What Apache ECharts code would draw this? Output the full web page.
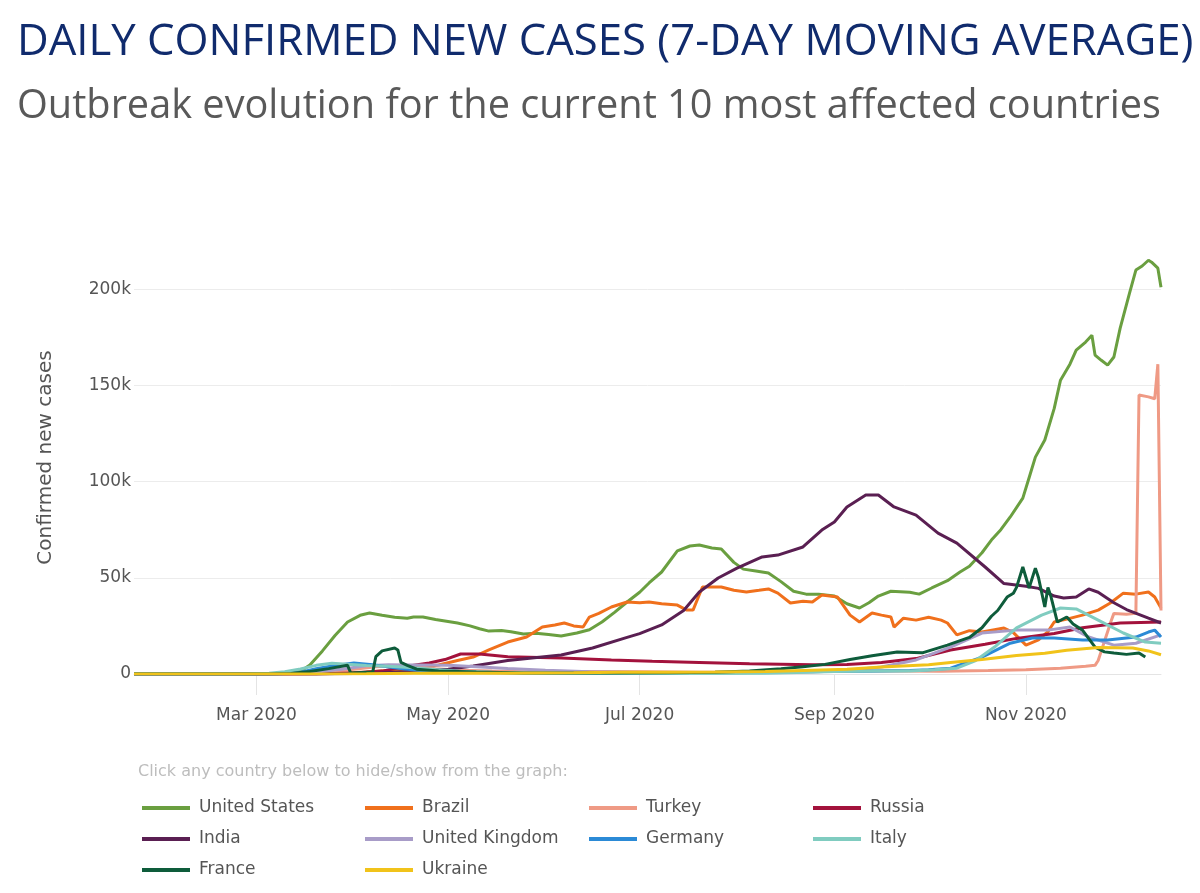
<!doctype html>
<html lang="en">
<head>
<meta charset="UTF-8" />
<title>Daily confirmed new cases</title>
<script src="https://cdn.jsdelivr.net/npm/echarts@6/dist/echarts.min.js"></script>
<style>
  html, body { margin: 0; padding: 0; background: #fff; }
  #chart { width: 1200px; height: 893px; }
</style>
</head>
<body>
<div id="chart"></div>
<script>
// countries in legend / drawing order
const countries = ['United States', 'Brazil', 'Turkey', 'Russia', 'India',
  'United Kingdom', 'Germany', 'Italy', 'France', 'Ukraine'];

// x axis labels sit on the first of these months
const tickDates = ['2020-03-01', '2020-05-01', '2020-07-01', '2020-09-01', '2020-11-01'];
const yTicks = [0, 50000, 100000, 150000, 200000];

// 7-day averages: [date, cases]
const usCases = [['2020-01-22',0],['2020-02-29',0],['2020-03-07',100],['2020-03-12',500],['2020-03-16',2500],['2020-03-18',4700],['2020-03-22',12000],['2020-03-26',20000],['2020-03-30',27000],['2020-04-03',30500],['2020-04-06',31700],['2020-04-10',30500],['2020-04-14',29500],['2020-04-18',29000],['2020-04-20',29600],['2020-04-23',29600],['2020-04-27',28300],['2020-05-01',27300],['2020-05-04',26500],['2020-05-08',25000],['2020-05-11',23500],['2020-05-14',22300],['2020-05-18',22600],['2020-05-21',22000],['2020-05-25',20800],['2020-05-29',21200],['2020-06-02',20500],['2020-06-06',19700],['2020-06-11',21300],['2020-06-15',23000],['2020-06-19',27000],['2020-06-23',32000],['2020-06-27',37400],['2020-07-01',42500],['2020-07-04',47300],['2020-07-08',53000],['2020-07-13',64000],['2020-07-17',66500],['2020-07-20',67000],['2020-07-24',65500],['2020-07-27',65000],['2020-07-31',58000],['2020-08-03',54500],['2020-08-07',53500],['2020-08-11',52500],['2020-08-15',48000],['2020-08-19',43000],['2020-08-23',41500],['2020-08-27',41500],['2020-09-01',40500],['2020-09-05',36500],['2020-09-09',34300],['2020-09-12',37000],['2020-09-15',40500],['2020-09-19',43000],['2020-09-25',42500],['2020-09-28',41500],['2020-10-02',44700],['2020-10-07',48500],['2020-10-11',53000],['2020-10-14',56000],['2020-10-18',63000],['2020-10-21',69600],['2020-10-24',75000],['2020-10-27',81600],['2020-10-31',91400],['2020-11-02',102000],['2020-11-04',112700],['2020-11-07',121600],['2020-11-10',138000],['2020-11-12',152700],['2020-11-15',161000],['2020-11-17',168300],['2020-11-20',172500],['2020-11-22',176000],['2020-11-23',165700],['2020-11-25',163000],['2020-11-27',160500],['2020-11-29',164700],['2020-12-01',179700],['2020-12-04',198000],['2020-12-06',209900],['2020-12-08',212000],['2020-12-10',215000],['2020-12-11',214000],['2020-12-13',210900],['2020-12-14',201000]];
const brazilCases = [['2020-01-22',0],['2020-03-10',0],['2020-03-25',300],['2020-04-05',1000],['2020-04-15',2200],['2020-04-28',4700],['2020-05-04',7000],['2020-05-09',8800],['2020-05-14',12500],['2020-05-20',16600],['2020-05-26',19200],['2020-05-31',24400],['2020-06-04',25500],['2020-06-07',26500],['2020-06-10',25000],['2020-06-13',24400],['2020-06-15',29600],['2020-06-18',31500],['2020-06-22',34800],['2020-06-27',37400],['2020-07-01',37000],['2020-07-04',37400],['2020-07-08',36500],['2020-07-13',35800],['2020-07-16',33200],['2020-07-18',33200],['2020-07-21',45200],['2020-07-27',45200],['2020-07-31',43500],['2020-08-04',42600],['2020-08-08',43500],['2020-08-11',44200],['2020-08-14',42000],['2020-08-18',36900],['2020-08-22',37800],['2020-08-25',37400],['2020-08-28',41000],['2020-09-02',40000],['2020-09-06',30600],['2020-09-09',27000],['2020-09-13',31700],['2020-09-16',30600],['2020-09-19',29600],['2020-09-20',24400],['2020-09-23',29000],['2020-09-27',28000],['2020-10-01',29500],['2020-10-05',28000],['2020-10-07',26500],['2020-10-10',20300],['2020-10-14',22500],['2020-10-18',21800],['2020-10-22',23000],['2020-10-25',23900],['2020-10-28',21500],['2020-11-01',15000],['2020-11-05',17700],['2020-11-08',22000],['2020-11-10',27000],['2020-11-14',28500],['2020-11-19',30600],['2020-11-24',33200],['2020-11-28',37000],['2020-12-02',42000],['2020-12-06',41500],['2020-12-10',42600],['2020-12-12',40000],['2020-12-14',34300]];
const turkeyCases = [['2020-01-22',0],['2020-03-11',0],['2020-03-20',150],['2020-03-25',1000],['2020-04-01',2500],['2020-04-08',3800],['2020-04-14',4400],['2020-04-20',4000],['2020-04-27',2700],['2020-05-05',2000],['2020-05-15',1500],['2020-06-01',900],['2020-06-12',1300],['2020-07-01',1200],['2020-07-20',950],['2020-08-10',1100],['2020-09-01',1500],['2020-09-20',1600],['2020-10-05',1400],['2020-10-20',1800],['2020-11-01',2200],['2020-11-12',3000],['2020-11-20',4000],['2020-11-23',4500],['2020-11-24',7000],['2020-11-25',12000],['2020-11-26',17000],['2020-11-27',22000],['2020-11-28',27000],['2020-11-29',31500],['2020-12-03',31000],['2020-12-06',31500],['2020-12-07',145000],['2020-12-10',144000],['2020-12-12',143000],['2020-12-13',161000],['2020-12-14',33000]];
const russiaCases = [['2020-01-22',0],['2020-03-20',0],['2020-04-01',500],['2020-04-10',1500],['2020-04-18',4000],['2020-04-25',5700],['2020-04-30',7500],['2020-05-05',10400],['2020-05-11',10400],['2020-05-20',9000],['2020-06-06',8300],['2020-06-22',7300],['2020-07-05',6600],['2020-07-20',6000],['2020-08-05',5300],['2020-08-25',4800],['2020-09-05',5000],['2020-09-16',6000],['2020-09-27',8000],['2020-10-08',12500],['2020-10-19',15500],['2020-10-29',18500],['2020-11-10',21000],['2020-11-19',24000],['2020-12-01',26500],['2020-12-14',27000]];
const indiaCases = [['2020-01-22',0],['2020-03-20',0],['2020-04-01',200],['2020-04-10',700],['2020-04-20',1400],['2020-05-01',2500],['2020-05-09',4200],['2020-05-20',7000],['2020-06-06',9900],['2020-06-16',13500],['2020-06-27',19000],['2020-07-01',21000],['2020-07-08',25500],['2020-07-15',33000],['2020-07-20',42600],['2020-07-26',49900],['2020-08-01',55000],['2020-08-09',60800],['2020-08-14',61800],['2020-08-22',66000],['2020-08-28',74800],['2020-09-01',79000],['2020-09-05',86800],['2020-09-11',93000],['2020-09-15',93000],['2020-09-20',86800],['2020-09-27',82600],['2020-10-04',73200],['2020-10-10',68000],['2020-10-19',55600],['2020-10-25',47000],['2020-11-01',45600],['2020-11-05',44500],['2020-11-10',40500],['2020-11-13',39500],['2020-11-17',40000],['2020-11-21',44200],['2020-11-24',42500],['2020-11-29',37000],['2020-12-03',33500],['2020-12-10',29000],['2020-12-14',26500]];
const ukCases = [['2020-01-22',0],['2020-03-08',50],['2020-03-18',600],['2020-03-28',2500],['2020-04-05',4300],['2020-04-12',4800],['2020-04-20',4700],['2020-05-01',4500],['2020-05-10',3800],['2020-05-20',2800],['2020-06-01',1900],['2020-06-15',1200],['2020-07-01',800],['2020-07-20',600],['2020-08-10',900],['2020-08-25',1100],['2020-09-05',1800],['2020-09-16',3600],['2020-09-27',7300],['2020-10-08',14000],['2020-10-18',21300],['2020-10-29',22800],['2020-11-08',22800],['2020-11-15',24400],['2020-11-21',19200],['2020-11-29',15000],['2020-12-06',16000],['2020-12-14',20300]];
const germanyCases = [['2020-01-22',0],['2020-03-01',20],['2020-03-08',100],['2020-03-14',600],['2020-03-20',2700],['2020-03-25',4200],['2020-04-01',5700],['2020-04-07',4800],['2020-04-14',3300],['2020-04-21',2000],['2020-04-28',1300],['2020-05-10',800],['2020-05-25',500],['2020-06-10',350],['2020-06-22',550],['2020-07-05',400],['2020-07-20',500],['2020-08-05',800],['2020-08-15',1200],['2020-08-25',1300],['2020-09-10',1400],['2020-09-25',1800],['2020-10-01',2200],['2020-10-08',3000],['2020-10-18',8800],['2020-10-27',16000],['2020-11-03',18700],['2020-11-10',18700],['2020-11-19',17700],['2020-11-27',17700],['2020-12-06',19200],['2020-12-10',21800],['2020-12-12',22800],['2020-12-14',19200]];
const italyCases = [['2020-01-22',0],['2020-02-20',0],['2020-02-28',150],['2020-03-05',400],['2020-03-10',1200],['2020-03-15',2600],['2020-03-20',4500],['2020-03-25',5600],['2020-03-30',5100],['2020-04-05',4400],['2020-04-12',4000],['2020-04-20',3200],['2020-04-27',2300],['2020-05-05',1400],['2020-05-15',900],['2020-05-25',600],['2020-06-05',350],['2020-06-20',250],['2020-07-10',200],['2020-07-25',280],['2020-08-10',400],['2020-08-20',800],['2020-09-01',1300],['2020-09-15',1500],['2020-09-25',1600],['2020-10-03',2200],['2020-10-10',3000],['2020-10-16',7000],['2020-10-22',14000],['2020-10-29',24000],['2020-11-06',30600],['2020-11-12',34300],['2020-11-17',33800],['2020-11-24',28000],['2020-12-02',21300],['2020-12-09',16600],['2020-12-14',16000]];
const franceCases = [['2020-01-22',0],['2020-02-25',0],['2020-03-05',50],['2020-03-12',300],['2020-03-18',1300],['2020-03-24',2800],['2020-03-30',4500],['2020-03-31',500],['2020-04-07',1000],['2020-04-08',9000],['2020-04-10',12000],['2020-04-14',13500],['2020-04-15',12500],['2020-04-16',6000],['2020-04-18',4500],['2020-04-21',2500],['2020-04-28',1500],['2020-05-10',1000],['2020-05-25',500],['2020-06-20',500],['2020-07-10',600],['2020-07-25',900],['2020-08-05',1600],['2020-08-15',2700],['2020-08-22',3800],['2020-08-29',5000],['2020-09-06',7500],['2020-09-13',9500],['2020-09-21',11400],['2020-09-29',11000],['2020-10-07',15000],['2020-10-14',19000],['2020-10-18',24000],['2020-10-21',30000],['2020-10-23',33000],['2020-10-26',40000],['2020-10-28',42000],['2020-10-29',45000],['2020-10-31',55600],['2020-11-02',44700],['2020-11-04',55000],['2020-11-05',50000],['2020-11-07',34800],['2020-11-08',45000],['2020-11-09',40000],['2020-11-11',27000],['2020-11-14',29600],['2020-11-16',26000],['2020-11-19',22800],['2020-11-23',14000],['2020-11-26',11500],['2020-11-29',10900],['2020-12-03',10200],['2020-12-07',10900],['2020-12-09',8800]];
const ukraineCases = [['2020-01-22',0],['2020-03-20',0],['2020-04-05',100],['2020-04-20',350],['2020-05-01',450],['2020-05-20',400],['2020-06-10',600],['2020-06-25',850],['2020-07-10',850],['2020-07-25',1000],['2020-08-10',1300],['2020-08-25',2000],['2020-09-05',2500],['2020-09-16',3600],['2020-10-01',4800],['2020-10-08',6000],['2020-10-18',7500],['2020-10-29',9600],['2020-11-07',10800],['2020-11-14',12300],['2020-11-24',13800],['2020-12-05',13500],['2020-12-10',12000],['2020-12-14',10000]];

const seriesData = [usCases, brazilCases, turkeyCases, russiaCases, indiaCases,
  ukCases, germanyCases, italyCases, franceCases, ukraineCases];

const colors = ['#6a9f40', '#f0701c', '#ef9a85', '#a3123c', '#5a1f52',
  '#a89cc8', '#2b8ad6', '#80ccc0', '#0e5c3b', '#f1c31a'];

// legend columns, left to right
const legendCols = [
  ['United States', 'India', 'France'],
  ['Brazil', 'United Kingdom', 'Ukraine'],
  ['Turkey', 'Germany'],
  ['Russia', 'Italy']
];
const legendLeft = [142, 365, 589, 813];

const monthNames = ['Jan', 'Feb', 'Mar', 'Apr', 'May', 'Jun', 'Jul', 'Aug', 'Sep', 'Oct', 'Nov', 'Dec'];

function toTime(s) {
  const p = s.split('-').map(Number);
  return new Date(p[0], p[1] - 1, p[2]).getTime();
}

const axisFont = 'DejaVu Sans';
const chart = echarts.init(document.getElementById('chart'));

const option = {
  animation: false,
  backgroundColor: '#fff',
  color: colors,
  title: [
    {
      text: 'DAILY CONFIRMED NEW CASES (7-DAY MOVING AVERAGE)',
      left: 17, top: 21, padding: 0,
      textStyle: { fontFamily: 'Open Sans', fontSize: 43.7, fontWeight: 'normal', color: '#102b6d' }
    },
    {
      text: 'Outbreak evolution for the current 10 most affected countries',
      left: 17, top: 87, padding: 0,
      textStyle: { fontFamily: 'Open Sans', fontSize: 39.7, fontWeight: 'normal', color: '#595959' }
    },
    {
      text: 'Click any country below to hide/show from the graph:',
      left: 138, top: 764, padding: 0,
      textStyle: { fontFamily: axisFont, fontSize: 16, fontWeight: 'normal', color: '#bdbdbd' }
    }
  ],
  legend: legendCols.map((names, i) => ({
    data: names,
    orient: 'vertical',
    left: legendLeft[i],
    top: 798,
    padding: 0,
    itemGap: 11,
    itemWidth: 48,
    itemHeight: 4,
    icon: 'rect',
    textStyle: { fontFamily: axisFont, fontSize: 17, color: '#555', lineHeight: 20, padding: [0, 0, 0, 4] }
  })),
  grid: { left: 134, right: 39, top: 241, bottom: 219 },
  xAxis: {
    type: 'value',
    min: toTime('2020-01-22'),
    max: toTime('2020-12-14'),
    axisLine: { show: true, onZero: false, lineStyle: { color: '#e4e4e4', width: 1 } },
    axisTick: {
      show: true, length: 21,
      lineStyle: { color: '#e4e4e4' },
      customValues: tickDates.map(toTime)
    },
    axisLabel: {
      customValues: tickDates.map(toTime),
      showMinLabel: true, showMaxLabel: true,
      hideOverlap: false,
      margin: 33,
      fontFamily: axisFont, fontSize: 17, color: '#555',
      formatter: function (v) {
        const d = new Date(v);
        return monthNames[d.getMonth()] + ' ' + d.getFullYear();
      }
    },
    splitLine: { show: false }
  },
  yAxis: {
    type: 'value',
    min: 0, max: 225000, interval: 50000,
    name: 'Confirmed new cases',
    nameLocation: 'middle',
    nameGap: 78,
    nameTextStyle: { fontFamily: axisFont, fontSize: 20, color: '#555' },
    axisLine: { show: false },
    axisTick: { show: false },
    axisLabel: {
      showMaxLabel: false,
      margin: 3,
      fontFamily: axisFont, fontSize: 17, color: '#555',
      formatter: function (v) { return yTicks.indexOf(v) < 0 ? '' : (v === 0 ? '0' : v / 1000 + 'k'); }
    },
    splitLine: { showMaxLine: false, lineStyle: { color: '#ececec', width: 1 } }
  },
  series: countries.map((name, i) => ({
    name: name,
    type: 'line',
    data: seriesData[i].map(p => [toTime(p[0]), p[1]]),
    showSymbol: false,
    symbol: 'none',
    lineStyle: { width: 3, color: colors[i] },
    itemStyle: { color: colors[i] },
    emphasis: { disabled: true }
  }))
};

chart.setOption(option);
window.onresize = function () { chart.resize(); };
</script>
</body>
</html>
